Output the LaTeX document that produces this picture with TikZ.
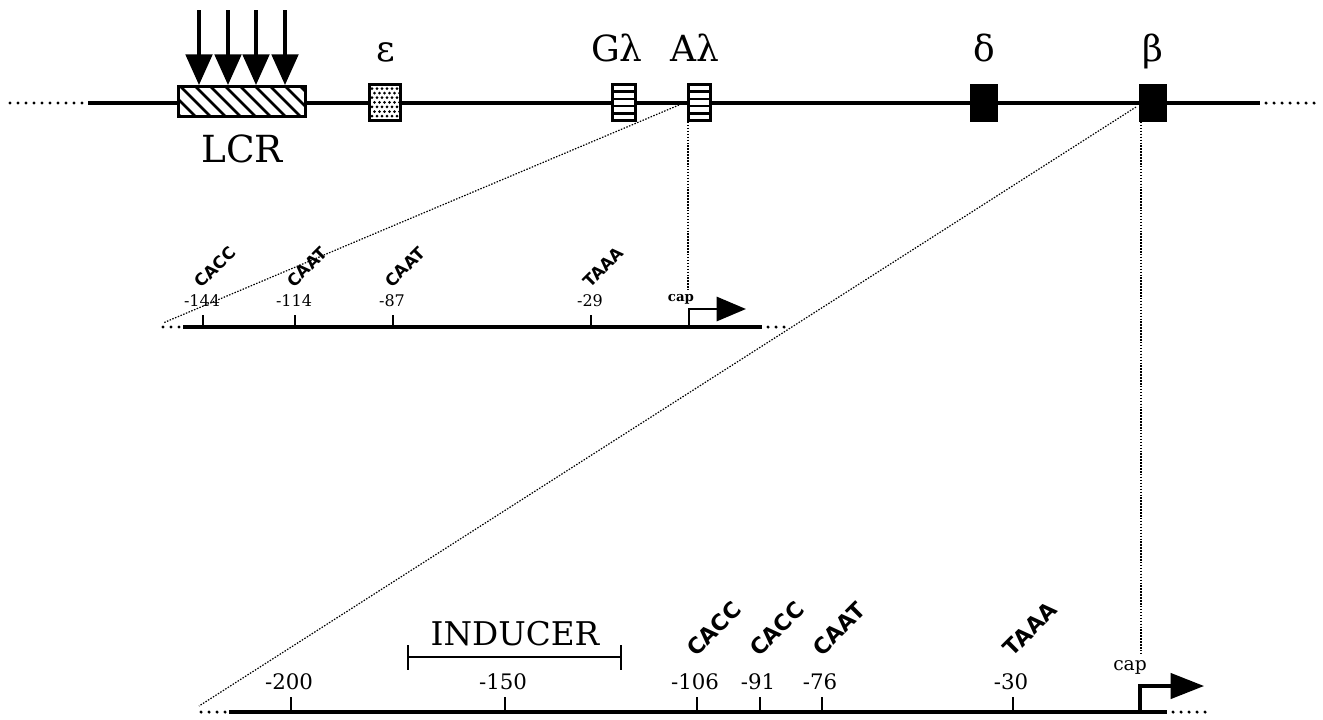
\documentclass[tikz,border=0pt]{standalone}
\usepackage{fontspec}
\newfontfamily\grk{DejaVu Serif}
\newfontfamily\ser{DejaVu Serif}
\newfontfamily\hsans{DejaVu Sans}
\usetikzlibrary{arrows.meta}
\tikzset{
  dna/.style={line width=3pt},
  midline/.style={line width=2.4pt},
  dotend/.style={line width=2.6pt, line cap=round, dash pattern=on 0pt off 6pt},
  leader/.style={line width=0.9pt, dash pattern=on 1.1pt off 1.1pt},
  tickmark/.style={line width=2.2pt},
  boxline/.style={line width=2.2pt},
  glabel/.style={font=\grk\fontsize{27}{27}\selectfont, anchor=base, inner sep=0pt},
  biglabel/.style={font=\ser\fontsize{28}{28}\selectfont, anchor=base, inner sep=0pt},
  numsmall/.style={font=\ser\fontsize{12}{12}\selectfont, anchor=base, inner sep=0pt},
  numbig/.style={font=\ser\fontsize{16}{16}\selectfont, anchor=base, inner sep=0pt},
  motifsmall/.style={font=\hsans\bfseries\fontsize{12.5}{12.5}\selectfont, rotate=45, inner sep=0pt},
  motifbig/.style={font=\hsans\bfseries\fontsize{16.5}{16.5}\selectfont, rotate=45, inner sep=0pt},
  lcrarrow/.style={line width=2.3pt, -{Triangle[length=23pt,width=20pt]}},
  caparrow/.style={line width=2.2pt, -{Triangle[length=22pt,width=18pt]}},
  caparrowbig/.style={line width=2.4pt, -{Triangle[length=25pt,width=19pt]}},
}
\begin{document}
\begin{tikzpicture}[x=0.75pt,y=-0.75pt]
\useasboundingbox (0,0) rectangle (1323,719);

% ---------- top locus ----------
\draw[dotend] (10,103) -- (86,103);
\draw[dna] (88,103) -- (1260,103);
\draw[dotend] (1266,103) -- (1318,103);

% LCR box with hatching
\fill[white] (178.5,86.5) rectangle (305.5,116.5);
\begin{scope}
  \clip (178.5,86.5) rectangle (305.5,116.5);
  \foreach \i in {150,165,...,320} \draw[line width=2.1pt] (\i,86) -- (\i+31,117);
\end{scope}
\draw[boxline] (178.5,86.5) rectangle (305.5,116.5);
\node[biglabel] (lcr) at (242,162) {LCR};

% arrows into LCR
\foreach \x [count=\k] in {199,228,256,285} {
  \coordinate (ar\k) at (\x,10);
  \coordinate (lt\k) at (\x,85);
  \draw[lcrarrow] (ar\k) -- (lt\k);
}

% epsilon box with dots
\fill[white] (369.5,84.5) rectangle (400.5,120.5);
\begin{scope}
  \clip (369.5,84.5) rectangle (400.5,120.5);
  \foreach \r in {0,...,7} \foreach \c in {0,...,6}
    \fill ({372+\c*5+mod(\r,2)*2.5},{88.5+\r*4.6}) circle (1.5);
\end{scope}
\draw[boxline] (369.5,84.5) rectangle (400.5,120.5);
\node[glabel] (eps) at (386,61) {ε};

% G-lambda and A-lambda boxes
\foreach \xa/\xb in {612.5/635.5, 688.5/710.5} {
  \fill[white] (\xa,84.5) rectangle (\xb,120.5);
  \foreach \y in {91.7,98.9,106.1,113.3} \draw[line width=2pt] (\xa,\y) -- (\xb,\y);
  \draw[boxline] (\xa,84.5) rectangle (\xb,120.5);
}
\node[glabel] (gl) at (617,61) {Gλ};
\node[glabel] (al) at (695,61) {Aλ};

% delta and beta boxes
\fill (970,84) rectangle (998,122);
\fill (1139,84) rectangle (1167,122);
\node[glabel] (del) at (984,61) {δ};
\node[glabel] (bet) at (1153,61) {β};

% ---------- leader lines ----------
\coordinate (alL) at (679,105);
\coordinate (alB) at (163,323);
\coordinate (alT) at (688,122);
\coordinate (alC) at (688,290);
\coordinate (beL) at (1136,107);
\coordinate (beB) at (199,706);
\coordinate (beT) at (1141,122);
\coordinate (beC) at (1141,655);
\draw[leader] (alL) -- (alB);
\draw[leader] (alT) -- (alC);
\draw[leader] (beL) -- (beB);
\draw[leader] (beT) -- (beC);

% ---------- A-gamma promoter ----------
\draw[dotend] (163,327) -- (180,327);
\draw[midline] (183,327) -- (762,327);
\draw[dotend] (768,327) -- (786,327);
\foreach \x/\n/\m in {203/-144/CACC, 295/-114/CAAT, 393/-87/CAAT, 591/-29/TAAA} {
  \draw[tickmark] (\x,327) -- (\x,315);
  \node[numsmall] at (\x-1,306) {\n};
  \node[motifsmall] at (\x+12,267) {\m};
}
\coordinate (capA0) at (689,327);
\coordinate (capA1) at (746,309);
\draw[caparrow] (capA0) |- (capA1);
\node[font=\ser\bfseries\fontsize{10}{10}\selectfont, inner sep=0pt] (capA) at (681,299) {cap};

% ---------- beta promoter ----------
\draw[dotend] (201,712) -- (226,712);
\draw[midline] (229,712) -- (1167,712);
\draw[dotend] (1173,712) -- (1207,712);
\foreach \x/\n in {291/-200, 505/-150, 697/-106, 760/-91, 822/-76, 1013/-30} {
  \draw[tickmark] (\x,712) -- (\x,697);
  \node[numbig] at (\x-2,689) {\n};
}
\foreach \x/\m in {697/CACC, 760/CACC, 822/CAAT, 1013/TAAA}
  \node[motifbig] at (\x+17,629) {\m};

% inducer
\draw[tickmark] (408,657) -- (621,657);
\draw[tickmark] (408,645) -- (408,670);
\draw[tickmark] (621,645) -- (621,670);
\node[font=\ser\fontsize{24.5}{24.5}\selectfont, anchor=base, inner sep=0pt] (ind) at (515,645) {INDUCER};

\coordinate (capB0) at (1140,712);
\coordinate (capB1) at (1204,686);
\draw[caparrowbig] (capB0) |- (capB1);
\node[font=\ser\fontsize{14}{14}\selectfont, inner sep=0pt] (capB) at (1130,667) {cap};
\end{tikzpicture}
\end{document}
